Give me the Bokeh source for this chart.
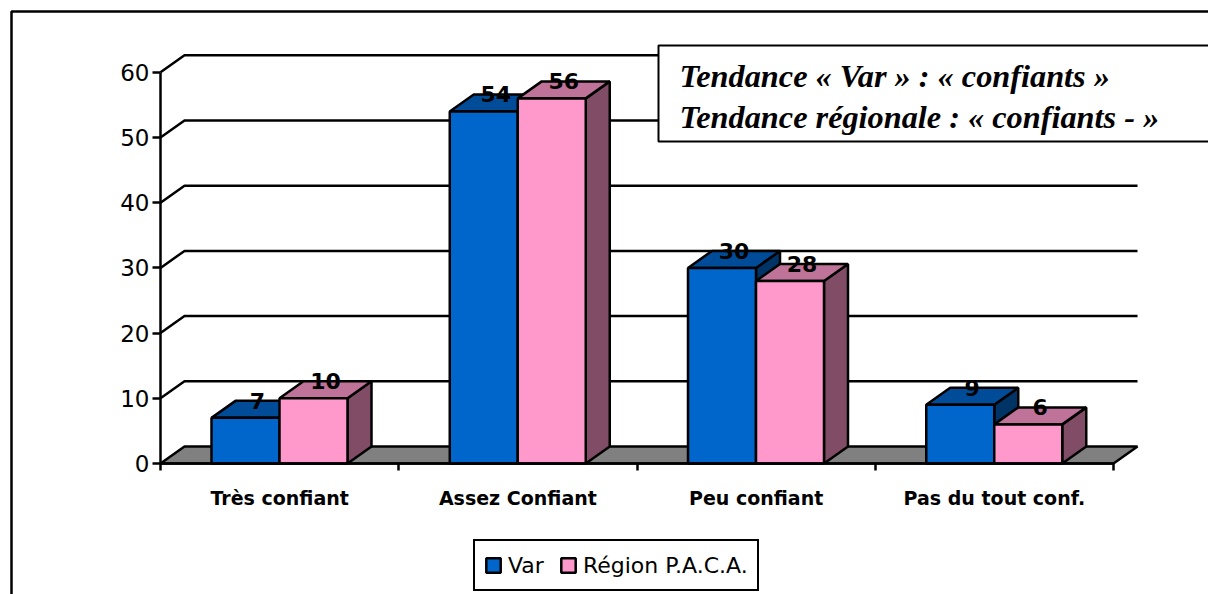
from bokeh.plotting import figure
from bokeh.models import (BoxAnnotation, FixedTicker, Label, Legend, LegendItem, Range1d)
from bokeh.core.properties import value
from bokeh.embed import file_html
from bokeh.resources import INLINE

categories = ["Très confiant", "Assez Confiant", "Peu confiant", "Pas du tout conf."]
var_values = [7, 54, 30, 9]
paca_values = [10, 56, 28, 6]
y_ticks = [0, 10, 20, 30, 40, 50, 60]
series_names = ["Var", "Région P.A.C.A."]
note_lines = ["Tendance « Var » : « confiants »", "Tendance régionale : « confiants - »"]

BLUE = ("#0066CC", "#004C99", "#003366")
PINK = ("#FF99CC", "#BF7399", "#804C66")
INK = "#000000"
SANS = "DejaVu Sans"
LW = 2.5

W, H = 1208, 594
PX_X = 238.25      # pixels per category
PX_Y = 6.52        # pixels per value unit
ORIGIN_X, ORIGIN_Y = 160, 463
RIGHT = 1137
x_end = (RIGHT - ORIGIN_X) / PX_X
dx = 24 / PX_X     # depth of the 3D effect
dy = 17 / PX_Y
bar_w = 68 / PX_X
gap = 51 / PX_X

p = figure(width=W, height=H, output_backend="svg", toolbar_location=None,
           x_range=Range1d(-ORIGIN_X / PX_X, (W - ORIGIN_X) / PX_X),
           y_range=Range1d(-(H - ORIGIN_Y) / PX_Y, ORIGIN_Y / PX_Y),
           min_border=0, outline_line_color=None,
           background_fill_color="white", border_fill_color="white")
p.grid.visible = False

# Axes
ax = p.yaxis[0]
ax.fixed_location = 0
ax.ticker = FixedTicker(ticks=y_ticks)
ax.bounds = (0, 60)
ax.axis_line_color = INK
ax.axis_line_width = LW
ax.major_tick_line_color = INK
ax.major_tick_line_width = LW
ax.major_tick_in = 0
ax.major_tick_out = 8
ax.minor_tick_line_color = None
ax.major_label_standoff = 3
ax.major_label_text_font = SANS
ax.major_label_text_font_size = "23px"
ax.major_label_text_color = INK

bx = p.xaxis[0]
bx.fixed_location = 0
mids = [i + 0.5 for i in range(len(categories))]
bx.ticker = FixedTicker(ticks=mids, minor_ticks=list(range(len(categories) + 1)))
bx.major_label_overrides = {m: c for m, c in zip(mids, categories)}
bx.bounds = (0, len(categories))
bx.axis_line_color = INK
bx.axis_line_width = LW
bx.major_tick_line_color = None
bx.major_tick_in = 0
bx.major_tick_out = 0
bx.minor_tick_line_color = INK
bx.minor_tick_line_width = LW
bx.minor_tick_in = 0
bx.minor_tick_out = 7
bx.major_label_standoff = 16
bx.major_label_text_font = SANS
bx.major_label_text_font_style = "bold"
bx.major_label_text_font_size = "19px"
bx.major_label_text_color = INK

# Wall lines
wall_ticks = [t for t in y_ticks if t > 0]
p.multi_line([[0, dx, x_end] for _ in wall_ticks], [[t, t + dy, t + dy] for t in wall_ticks],
             line_color=INK, line_width=LW)

# Floor
n = len(categories)
p.patch([0, dx, x_end, n], [0, dy, dy, 0], fill_color="#808080", line_color=INK, line_width=LW)


def box(x0, v, colors):
    x1 = x0 + bar_w
    p.patch([x1, x1 + dx, x1 + dx, x1], [0, dy, v + dy, v],
            fill_color=colors[2], line_color=INK, line_width=LW)
    p.patch([x0, x0 + dx, x1 + dx, x1], [v, v + dy, v + dy, v],
            fill_color=colors[1], line_color=INK, line_width=LW)
    return p.patch([x0, x1, x1, x0], [0, 0, v, v],
                   fill_color=colors[0], line_color=INK, line_width=LW)


front_var = front_paca = None
lx, ly, lt = [], [], []
for i in range(n):
    x0 = i + gap
    front_var = box(x0, var_values[i], BLUE)
    front_paca = box(x0 + bar_w, paca_values[i], PINK)
    lx += [x0 + bar_w / 2 + dx / 2, x0 + 1.5 * bar_w + dx / 2]
    ly += [var_values[i] + dy, paca_values[i] + dy]
    lt += [str(var_values[i]), str(paca_values[i])]

p.text(lx, ly, lt, text_font=value(SANS), text_font_style="bold", text_font_size="22px",
       text_color=INK, text_align="center", text_baseline="middle")

# Outer frame and note box (screen y counts upward from the frame bottom)
p.add_layout(BoxAnnotation(left=11, top=H - 11, right=W + 20, bottom=-20,
                           left_units="screen", right_units="screen",
                           top_units="screen", bottom_units="screen",
                           fill_color=None, fill_alpha=0, line_color=INK, line_alpha=1, line_width=LW))
p.add_layout(BoxAnnotation(left=658, top=H - 45, right=W + 20, bottom=H - 141,
                           left_units="screen", right_units="screen",
                           top_units="screen", bottom_units="screen",
                           fill_color="white", fill_alpha=1, line_color=INK, line_alpha=1, line_width=2))
for line, py in zip(note_lines, [75, 116]):
    p.add_layout(Label(x=679, y=H - py, x_units="screen", y_units="screen", text=line,
                       text_font="Liberation Serif", text_font_style="bold italic",
                       text_font_size="32.3px", text_color=INK,
                       text_align="left", text_baseline="middle"))

legend = Legend(items=[LegendItem(label=series_names[0], renderers=[front_var]),
                       LegendItem(label=series_names[1], renderers=[front_paca])],
                orientation="horizontal", location=(473, 3),
                border_line_color=INK, border_line_width=2.5, border_line_alpha=1,
                background_fill_alpha=1,
                label_text_font=SANS, label_text_font_size="22px", label_text_color=INK,
                glyph_width=18, glyph_height=18, label_height=30, spacing=15, padding=9, margin=0,
                label_standoff=6)
p.add_layout(legend)

open("out.html", "w").write(file_html(p, INLINE))
